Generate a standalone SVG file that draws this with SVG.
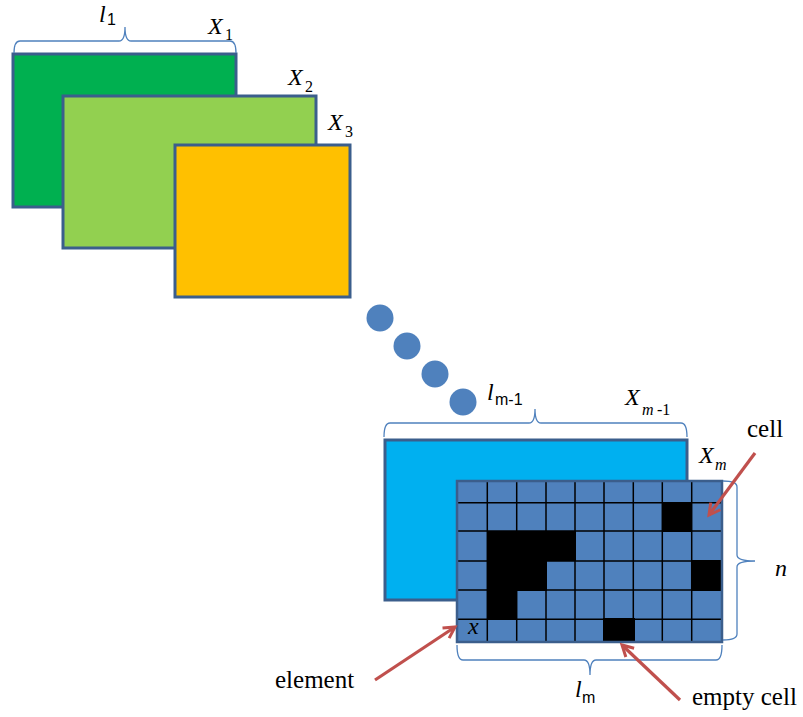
<svg xmlns="http://www.w3.org/2000/svg" width="803" height="717" viewBox="0 0 803 717">
<style>
.frame{stroke:#3B5E8C;stroke-width:3}
.brace{fill:none;stroke:#4F81BD;stroke-width:1.3}
.dot{fill:#4F81BD}
.arrow{fill:none;stroke:#C0504D;stroke-width:3.2;marker-end:url(#ah)}
.gl{stroke:#000;stroke-width:1.5}
.blk{fill:#000}
</style>
<defs>
<marker id="ah" markerUnits="userSpaceOnUse" viewBox="0 0 16 16" markerWidth="16" markerHeight="16" refX="13" refY="8" orient="auto">
<path d="M2,2 L13,8 L2,14" fill="none" stroke="#C0504D" stroke-width="3"/>
</marker>
</defs>
<g id="layer1">
<rect class="frame" x="13" y="54" width="223" height="153" fill="#00B050"/>
</g>
<g id="layer2">
<rect class="frame" x="63" y="96" width="253" height="152" fill="#92D050"/>
</g>
<g id="layer3">
<rect class="frame" x="175" y="145" width="175" height="152" fill="#FFC000"/>
</g>
<g id="dots">
<circle class="dot" cx="380" cy="318" r="13.5"/>
<circle class="dot" cx="407" cy="346" r="13.5"/>
<circle class="dot" cx="435" cy="374" r="13.5"/>
<circle class="dot" cx="463" cy="402" r="13.5"/>
</g>
<g id="layerm1">
<rect class="frame" x="385" y="440" width="302" height="160" fill="#00B0F0"/>
</g>
<g id="layerm">
<rect x="457" y="481" width="265" height="161" fill="#4F81BD"/>
<g class="gl">
<line x1="487.3" y1="481" x2="487.3" y2="642"/>
<line x1="516.7" y1="481" x2="516.7" y2="642"/>
<line x1="546" y1="481" x2="546" y2="642"/>
<line x1="575" y1="481" x2="575" y2="642"/>
<line x1="604" y1="481" x2="604" y2="642"/>
<line x1="633.3" y1="481" x2="633.3" y2="642"/>
<line x1="662.3" y1="481" x2="662.3" y2="642"/>
<line x1="691.7" y1="481" x2="691.7" y2="642"/>
<line x1="457" y1="502.7" x2="722" y2="502.7"/>
<line x1="457" y1="531" x2="722" y2="531"/>
<line x1="457" y1="561" x2="722" y2="561"/>
<line x1="457" y1="590" x2="722" y2="590"/>
<line x1="457" y1="619.3" x2="722" y2="619.3"/>
</g>
<rect class="blk" x="662" y="502" width="30" height="30"/>
<rect class="blk" x="487" y="531" width="89" height="30"/>
<rect class="blk" x="487" y="560" width="60" height="31"/>
<rect class="blk" x="487" y="589" width="30" height="31"/>
<rect class="blk" x="691" y="560" width="31" height="31"/>
<rect class="blk" x="603" y="618" width="32" height="25"/>
<rect x="457" y="481" width="265" height="161" fill="none" stroke="#3B5E8C" stroke-width="2.5"/>
<text x="468" y="634" font-family="Liberation Serif, serif" font-style="italic" font-size="24">x</text>
</g>
<g id="braces">
<path class="brace" d="M14,53 Q14,41 20,41 L119,41 Q125,41 125,27 Q125,41 131,41 L230,41 Q236,41 236,53"/>
<path class="brace" d="M384,437 Q384,423 390,423 L529,423 Q535,423 535,409 Q535,423 541,423 L681,423 Q687,423 687,437"/>
<path class="brace" d="M457,645 Q457,660 463,660 L584,660 Q590,660 590,675 Q590,660 596,660 L716,660 Q722,660 722,645"/>
<path class="brace" d="M723,481 Q737,481 737,487 L737,555 Q737,561 755,561 Q737,561 737,567 L737,634 Q737,640 723,640"/>
</g>
<g id="connectors">
<line class="arrow" x1="375" y1="680" x2="455" y2="627"/>
<line class="arrow" x1="680" y1="700" x2="622" y2="645"/>
<line class="arrow" x1="755" y1="453" x2="709" y2="515"/>
</g>
<g id="labels" font-family="Liberation Serif, serif" fill="#000">
<g font-style="italic" font-size="24">
<text x="99" y="22">l</text>
<text x="208" y="34">X</text>
<text x="288" y="85">X</text>
<text x="328" y="130">X</text>
<text x="487" y="400">l</text>
<text x="625" y="405">X</text>
<text x="699" y="463">X</text>
<text x="775" y="576">n</text>
<text x="575" y="697">l</text>
</g>
<g font-size="16">
<text x="225" y="40">1</text>
<text x="305" y="92">2</text>
<text x="345" y="137">3</text>
<text x="657" y="415">-1</text>
<text x="642" y="415" font-style="italic">m</text>
<text x="715" y="470" font-style="italic">m</text>
</g>
<g font-family="Liberation Sans, sans-serif" font-size="16">
<text x="107" y="25">1</text>
<text x="495" y="405">m-1</text>
<text x="582" y="703">m</text>
</g>
<g font-size="25">
<text x="747" y="437">cell</text>
<text x="275" y="688">element</text>
<text x="692" y="705">empty cell</text>
</g>
</g>
</svg>
